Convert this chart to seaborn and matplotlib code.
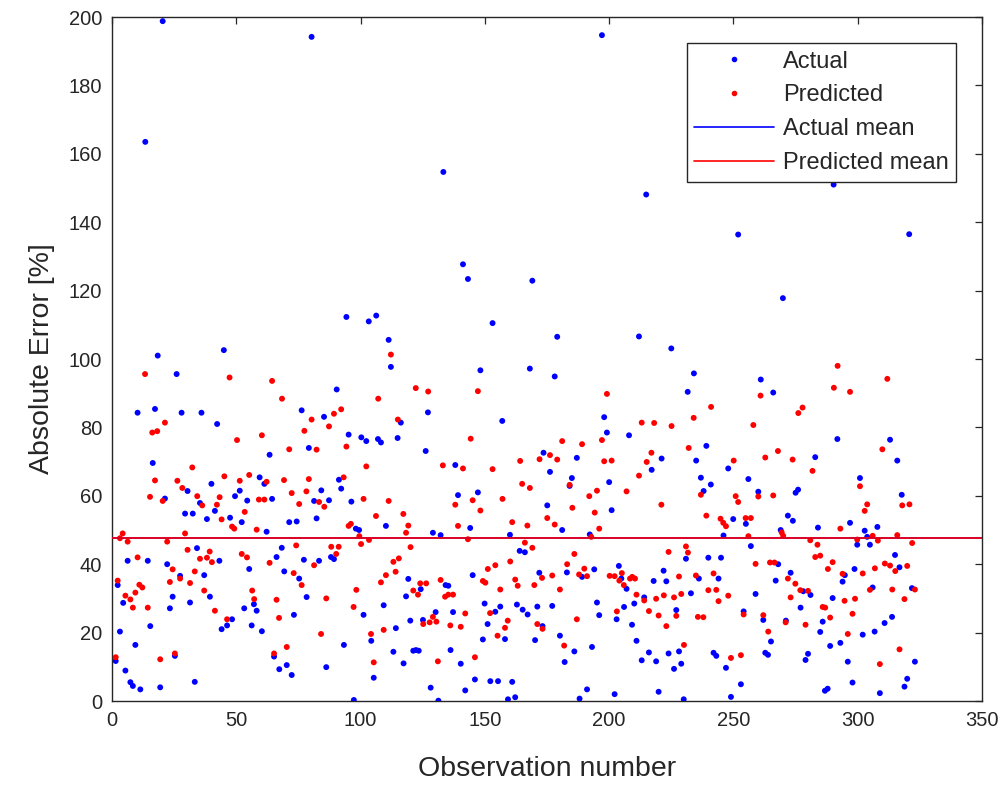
import pandas as pd
import matplotlib
matplotlib.use('Agg')
import matplotlib.pyplot as plt
import seaborn as sns
from matplotlib.lines import Line2D

# values (observation number, absolute error %)
actual_obs = [1.5, 2.3, 3.2, 4.5, 5.4, 6.3, 7.4, 8.4, 9.4, 10.3, 11.4, 13.4, 14.4, 15.4, 16.4, 17.3, 18.4, 19.4, 20.4, 21.3,
              22.2, 23.3, 24.4, 25.3, 26.0, 27.4, 28.0, 29.4, 30.4, 31.4, 32.5, 33.3, 34.2, 35.4, 36.0, 37.1, 38.2, 39.4, 40.0, 41.4,
              42.3, 43.2, 44.1, 45.0, 46.3, 47.5, 48.3, 49.5, 51.4, 52.2, 53.2, 54.4, 55.2, 56.2,
              57.1, 58.2, 59.4, 60.3, 61.3, 62.2, 63.4, 64.4, 65.2, 66.2, 67.3, 68.3, 69.3, 70.3, 71.3, 72.3, 73.2, 74.3, 75.3, 76.3,
              77.2, 78.3, 79.2, 80.3, 81.3, 82.3, 83.3, 84.2, 85.3, 86.2, 87.3, 88.1, 89.3, 90.4, 91.3, 92.2, 93.3, 94.3, 95.2, 96.3,
              97.3, 98.1, 99.4, 100.3, 101.2, 102.3, 103.3, 104.3, 105.3, 106.3, 107.0, 108.2, 109.3, 110.2, 111.3, 112.2, 113.2, 114.2, 114.9,
              116.2, 117.3, 118.3, 119.2, 120.0, 121.2, 122.3, 123.4, 124.2, 125.1, 126.2, 127.1, 128.2, 129.1, 130.2, 131.3, 132.2, 133.3,
              134.2, 135.3, 136.2, 137.2, 138.1, 139.2, 140.3, 141.2, 142.1, 143.2, 144.1, 145.1, 146.0, 147.2, 148.2, 149.2, 149.9, 151.1,
              152.2, 153.1, 154.2, 155.3, 156.2, 157.0, 158.1, 159.3, 160.1, 161.0, 162.2, 162.9, 164.0, 165.2, 166.1, 167.2, 168.1, 169.1,
              170.2, 171.1, 171.9, 173.2, 173.6,
              175.1, 176.2, 177.1, 178.1, 179.1, 180.2, 181.1, 182.1, 183.0, 184.1, 185.0, 186.0, 187.0, 188.1, 189.1, 191.1, 192.2, 193.1,
              194.0, 195.1, 196.0, 197.1, 198.0, 199.1, 200.0, 201.0, 202.2, 203.0, 203.9, 204.9, 206.0, 207.0, 208.0, 209.2, 210.1, 211.0,
              212.0, 213.1, 214.1, 214.9, 216.0, 217.1, 217.9, 218.9, 219.9, 221.1, 221.9, 223.0, 223.9, 225.0, 226.1, 227.0, 228.1, 229.0,
              230.0, 230.9, 231.6,
              232.9, 234.1, 235.0, 236.1, 236.9, 238.0, 239.1, 239.9, 240.9, 242.0, 243.1, 244.0, 245.0, 246.0, 247.0, 247.9, 249.0, 249.9,
              251.9, 253.0, 254.1, 255.0, 256.0, 257.0, 258.9, 260.0, 261.0, 262.0, 262.8, 263.9, 265.1, 266.0, 267.0, 268.0, 269.0, 269.9,
              271.1, 271.9, 273.0, 273.9, 275.0, 276.0, 277.0, 278.1, 279.0, 280.0, 281.0, 282.9, 284.0, 284.9, 285.9, 286.8, 287.9, 288.9,
              289.9, 290.3,
              291.8, 293.0, 293.9, 294.8, 296.0, 296.9, 297.9, 298.7, 299.8, 300.9, 302.0, 302.8, 303.8, 304.9, 306.0, 306.8, 307.9, 308.9,
              310.8, 313.0, 313.8, 315.0, 315.9, 316.8, 317.7, 318.8, 319.9, 320.7, 321.8, 323.0]
actual_err = [11.7, 33.9, 20.3, 28.7, 8.9, 41.0, 5.5, 4.4, 16.4, 84.3, 3.4, 163.5, 41.0, 21.9, 69.6, 85.4, 101.0, 4.0, 198.8, 59.2,
              40.0, 27.1, 30.5, 13.2, 95.6, 36.6, 84.3, 54.8, 61.4, 28.8, 54.8, 5.6, 44.7, 57.9, 84.3, 36.8, 53.2, 30.5, 63.5, 55.6,
              81.0, 41.0, 21.0, 102.6, 22.1, 53.6, 23.9, 59.9, 61.5, 52.3, 27.1, 58.6, 38.6, 22.1,
              28.3, 26.4, 65.4, 20.4, 63.5, 49.5, 72.0, 59.1, 13.0, 42.1, 9.3, 44.8, 37.9, 10.5, 52.3, 7.6, 25.2, 52.5, 35.8, 85.0,
              41.3, 30.4, 74.0, 194.2, 58.5, 53.4, 41.0, 61.6, 83.1, 9.9, 58.7, 42.1, 41.5, 91.1, 64.7, 62.1, 16.4, 112.3, 77.9, 58.3,
              0.3, 50.4, 50.0, 77.1, 25.2, 76.0, 111.0, 17.6, 6.8, 112.7, 76.6, 75.6, 28.0, 51.2, 105.6, 97.7, 14.4, 21.3, 76.9,
              81.4, 11.0, 30.6, 35.7, 23.5, 14.7, 14.9, 14.7, 32.7, 23.7, 73.1, 84.4, 3.9, 49.2, 26.0, 0.1, 48.5, 154.7,
              33.9, 33.7, 14.9, 26.0, 69.0, 60.2, 10.9, 127.7, 3.1, 123.4, 50.6, 36.8, 6.3, 61.0, 96.7, 18.0, 28.5, 22.5,
              5.8, 110.5, 26.1, 5.8, 27.6, 81.9, 18.1, 0.5, 48.6, 5.6, 1.1, 28.2, 43.9, 26.7, 43.5, 25.3, 97.2, 122.9,
              17.8, 27.6, 37.5, 21.9, 72.6,
              57.2, 67.0, 27.8, 94.9, 106.5, 19.1, 50.0, 11.4, 37.6, 62.9, 65.2, 14.5, 71.1, 0.7, 36.3, 3.4, 48.7, 15.8,
              38.5, 28.8, 25.1, 194.7, 83.0, 78.5, 64.0, 55.8, 2.0, 23.9, 39.5, 35.8, 27.5, 32.8, 77.7, 22.3, 28.5, 17.6,
              106.6, 11.9, 30.3, 148.1, 14.2, 67.6, 35.1, 11.6, 2.7, 70.9, 38.1, 35.0, 13.9, 103.1, 9.4, 26.6, 14.5, 10.9,
              0.5, 41.6, 90.4,
              31.5, 95.8, 70.3, 35.8, 65.3, 61.4, 74.6, 41.9, 63.3, 14.1, 13.2, 35.8, 41.9, 48.4, 9.7, 68.0, 1.2, 53.2,
              136.4, 4.9, 26.2, 51.8, 64.9, 45.3, 31.3, 61.2, 94.0, 23.7, 14.1, 13.5, 17.4, 90.2, 35.2, 40.0, 50.0, 117.8,
              23.5, 54.2, 37.5, 52.7, 60.9, 61.8, 27.3, 32.1, 12.0, 13.8, 31.0, 71.3, 50.7, 20.2, 23.2, 3.0, 3.6, 16.1,
              30.1, 151.0,
              76.6, 17.0, 34.9, 36.8, 11.5, 52.1, 5.4, 38.6, 45.7, 65.2, 19.4, 49.8, 48.0, 45.7, 33.2, 20.3, 50.9, 2.3,
              22.8, 76.4, 24.6, 42.7, 70.3, 39.1, 60.3, 4.2, 6.5, 136.5, 33.0, 11.5]

pred_obs = [1.5, 2.3, 3.2, 4.3, 5.4, 6.3, 7.4, 8.4, 9.4, 10.3, 11.0, 12.2, 13.3, 14.4, 15.3, 16.2, 17.3, 18.2, 19.4, 20.4,
            21.3, 22.2, 23.3, 24.4, 25.3, 26.3, 27.4, 28.3, 29.4, 30.4, 31.4, 32.3, 33.3, 34.3, 35.4, 36.3, 37.1, 38.2, 39.3, 40.2,
            41.4, 42.2, 43.3, 44.1, 45.2, 46.3, 47.3, 48.3, 49.2, 50.3, 51.4, 52.2, 53.4, 54.3, 55.2, 56.4,
            57.2, 58.2, 59.1, 60.3, 61.3, 62.2, 63.4, 64.4, 65.2, 66.2, 67.2, 68.4, 69.2, 70.3, 71.3, 72.3, 73.1, 74.1, 75.3, 76.3,
            77.4, 78.2, 79.2, 80.3, 81.3, 82.3, 83.3, 84.1, 85.4, 86.2, 87.3, 88.2, 89.3, 90.2, 91.2, 92.2, 93.2, 94.3, 95.2, 96.1,
            97.2, 98.3, 99.5, 100.2, 101.2, 102.3, 103.4, 104.2, 105.3, 106.2, 107.1, 108.2, 109.3, 110.2, 111.3, 112.2, 113.2, 114.1,
            115.0, 115.4,
            117.2, 118.3, 119.2, 120.1, 121.2, 122.2, 123.1, 124.0, 125.2, 126.4, 127.2, 127.8, 129.1, 130.5, 131.1, 132.2, 133.1, 134.0,
            135.3, 136.1, 137.2, 138.1, 139.2, 140.3, 141.2, 142.1, 143.2, 144.3, 145.1, 146.0, 147.2, 148.2, 149.2, 150.2, 151.2, 152.1,
            153.1, 154.2, 155.1, 156.2, 157.1, 158.1, 159.2, 160.2, 161.0, 162.2, 163.2, 164.2, 165.0, 166.1, 167.1, 168.1, 169.1, 169.9,
            171.1, 172.0, 173.0, 173.2,
            175.1, 176.2, 177.1, 178.1, 179.1, 180.2, 181.1, 181.9, 183.1, 184.1, 185.2, 186.0, 187.0, 187.9, 189.1, 190.0, 191.1, 192.0,
            192.8, 194.2, 195.1, 196.0, 197.1, 198.0, 199.1, 200.2, 201.0, 202.2, 203.1, 204.1, 205.1, 205.9, 207.0, 208.4, 209.3, 210.4,
            211.0, 212.0, 213.1, 214.1, 215.1, 216.0, 217.0, 218.1, 218.9, 219.9, 221.0, 222.0, 223.0, 223.9, 225.1, 226.1, 227.0, 228.1,
            229.0, 230.1, 230.9, 231.7, 232.0,
            234.0, 234.9, 235.7, 236.9, 237.9, 239.1, 239.9, 241.0, 242.0, 243.1, 244.0, 244.8, 245.9, 247.0, 247.9, 249.0, 250.1, 250.9,
            251.9, 253.0, 254.1, 254.9, 256.0, 257.0, 258.0, 258.9, 260.0, 260.9, 262.0, 262.8, 264.0, 264.7, 266.0, 266.5, 267.9, 269.4,
            270.0, 271.0, 271.9, 273.0, 273.8, 274.9, 276.1, 276.9, 277.8, 279.0, 280.0, 280.9, 281.8, 282.9, 283.8, 284.9, 285.9, 286.9,
            288.0, 288.9, 289.9, 290.4,
            291.9, 293.0, 293.9, 294.7, 296.0, 296.9, 297.9, 298.9, 299.8, 300.9, 302.0, 302.8, 303.8, 304.9, 306.0, 306.9, 308.1, 308.9,
            309.9, 310.9, 311.9, 313.0, 313.9, 315.1, 315.9, 316.8, 317.9, 318.8, 319.9, 320.8, 321.9, 323.0]
pred_err = [12.8, 35.2, 47.6, 49.0, 30.8, 46.6, 29.7, 27.3, 31.7, 42.0, 34.0, 33.2, 95.6, 27.3, 59.7, 78.5, 64.5, 78.9, 12.2, 58.5,
            81.4, 46.6, 34.8, 38.5, 13.9, 64.4, 35.8, 62.3, 49.0, 44.2, 34.5, 68.3, 37.9, 59.9, 41.6, 57.2, 32.3, 41.9, 43.7, 40.6,
            26.4, 57.4, 59.6, 53.1, 65.7, 23.9, 94.6, 51.0, 50.4, 76.3, 64.4, 43.0, 55.3, 42.0, 66.1, 32.3,
            29.8, 50.1, 58.9, 77.7, 58.9, 64.1, 40.4, 93.6, 13.9, 29.6, 24.3, 88.4, 64.6, 15.8, 73.6, 60.8, 37.4, 45.5, 57.6, 33.9,
            79.0, 61.3, 64.9, 82.3, 39.7, 73.5, 58.2, 19.6, 56.8, 30.0, 80.3, 45.1, 84.0, 43.0, 45.1, 85.3, 65.4, 74.4, 51.2, 51.8,
            27.5, 32.5, 48.2, 45.9, 59.1, 68.6, 47.1, 19.6, 11.3, 54.1, 88.4, 34.7, 20.8, 36.8, 58.5, 101.3, 40.7, 37.8,
            82.3, 41.7,
            54.7, 49.2, 51.3, 45.0, 32.3, 91.5, 31.1, 34.4, 22.5, 34.4, 90.5, 23.0, 24.6, 23.2, 11.6, 35.4, 68.9, 30.5,
            31.1, 22.1, 31.1, 57.4, 51.2, 21.7, 68.0, 25.6, 47.3, 76.7, 58.7, 12.8, 90.6, 55.7, 35.1, 34.6, 38.6, 25.7,
            67.8, 39.7, 19.1, 32.6, 59.1, 21.4, 23.5, 40.8, 52.3, 35.5, 33.7, 70.2, 63.5, 46.3, 51.3, 62.3, 44.8, 33.9,
            22.5, 70.7, 36.0, 21.1,
            53.5, 71.9, 36.7, 51.6, 70.6, 32.6, 76.0, 16.2, 40.0, 63.2, 56.5, 43.0, 23.9, 37.0, 75.1, 38.7, 36.5, 59.9,
            48.0, 55.1, 61.5, 50.4, 76.3, 70.1, 89.8, 36.6, 70.3, 36.5, 26.2, 35.2, 37.4, 33.9, 61.3, 35.8, 36.3, 35.8,
            31.1, 65.9, 81.4, 29.4, 69.9, 26.3, 72.6, 81.3, 29.9, 25.0, 57.4, 30.9, 21.9, 43.6, 80.4, 30.3, 24.9, 36.4,
            31.3, 16.4, 45.2, 43.4, 74.0,
            82.8, 36.7, 24.6, 60.3, 24.5, 54.2, 32.4, 86.0, 37.3, 32.5, 29.2, 53.3, 52.1, 51.1, 30.8, 12.6, 70.3, 59.9,
            58.2, 13.4, 25.3, 53.5, 48.2, 53.5, 80.7, 40.1, 59.8, 89.3, 25.1, 71.2, 20.3, 40.5, 60.1, 40.5, 73.1, 49.3,
            48.3, 23.0, 35.8, 30.3, 70.6, 34.3, 84.2, 32.4, 85.8, 22.3, 32.2, 47.0, 67.3, 42.1, 45.7, 42.5, 27.5, 27.3,
            38.6, 24.4, 40.6, 91.6,
            98.0, 50.4, 37.2, 29.3, 19.6, 90.4, 25.5, 29.9, 47.2, 62.8, 37.3, 55.6, 57.5, 32.5, 48.3, 38.8, 46.9, 10.8,
            73.6, 40.2, 94.2, 39.6, 32.6, 38.0, 48.5, 15.1, 57.2, 29.8, 39.5, 57.5, 46.2, 32.6]

# mean levels (both lines sit on top of each other in the reference)
actual_mean = 47.7
pred_mean = 47.7

df = pd.concat([
    pd.DataFrame({'obs': actual_obs, 'err': actual_err, 'series': 'Actual'}),
    pd.DataFrame({'obs': pred_obs, 'err': pred_err, 'series': 'Predicted'}),
], ignore_index=True)

sns.set_style('white')
plt.rcParams['font.family'] = ['Liberation Sans', 'DejaVu Sans']

axis_col = '#262626'
fig = plt.figure(figsize=(10.07, 7.85), dpi=100)
ax = fig.add_axes([0.1112, 0.1070, 0.8640, 0.8713])

sns.scatterplot(data=df, x='obs', y='err', hue='series',
                palette={'Actual': '#0000ff', 'Predicted': '#ff0000'},
                s=18, linewidth=0, legend=False, ax=ax, zorder=3)
ax.axhline(actual_mean, color='#0000ff', lw=1.2, zorder=4)
ax.axhline(pred_mean, color='#ff0000', lw=1.2, zorder=5)

ax.set_xlim(0, 350)
ax.set_ylim(0, 200)
ax.set_xticks(range(0, 351, 50))
ax.set_yticks(range(0, 201, 20))
ax.set_xlabel('Observation number', fontsize=20.5, color=axis_col, labelpad=19)
ax.set_ylabel('Absolute Error [%]', fontsize=20.5, color=axis_col, labelpad=10)
ax.tick_params(direction='in', top=True, right=True, length=5, width=0.9,
               labelsize=14.5, colors=axis_col, pad=7)
for sp in ax.spines.values():
    sp.set_color(axis_col)
    sp.set_linewidth(1.0)

handles = [
    Line2D([], [], ls='none', marker='o', ms=3, color='#0000ff'),
    Line2D([], [], ls='none', marker='o', ms=3, color='#ff0000'),
    Line2D([], [], color='#0000ff', lw=1.2),
    Line2D([], [], color='#ff0000', lw=1.2),
]
leg = ax.legend(handles, ['Actual', 'Predicted', 'Actual mean', 'Predicted mean'],
                loc='upper right', fontsize=17, frameon=True, fancybox=False,
                framealpha=1, edgecolor=axis_col, handlelength=3.4,
                handletextpad=0.35, labelspacing=0.5, borderpad=0.32,
                borderaxespad=1.1)
leg.get_frame().set_linewidth(1.0)

plt.savefig('out.png', dpi=100)
plt.close()
